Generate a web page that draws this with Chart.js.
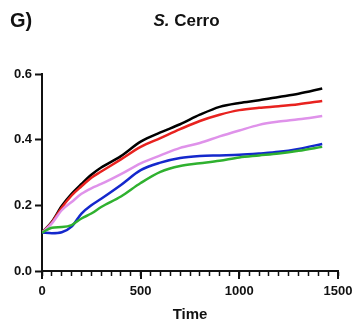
<!DOCTYPE html>
<html>
<head>
<meta charset="utf-8">
<script src="https://cdn.jsdelivr.net/npm/chart.js@4"></script>
<style>
  html, body { margin: 0; padding: 0; background: #fff; }
  #wrap { position: relative; width: 353px; height: 325px; font-family: "Liberation Sans", Arial, sans-serif; font-weight: bold; color: #111; }
  #panel { position: absolute; left: 10px; top: 9px; font-size: 20px; }
  #title { position: absolute; left: 0; width: 373px; top: 11px; text-align: center; font-size: 17px; }
  canvas { position: absolute; left: 0; top: 0; }
</style>
</head>
<body>
<div id="wrap">
  <canvas id="c" width="353" height="325"></canvas>
  <div id="panel">G)</div>
  <div id="title"><i>S.</i> Cerro</div>
</div>
<script>
// sampled time points (shared by all series)
const times = [0, 50, 100, 150, 200, 250, 300, 400, 500, 600, 700, 800, 900, 1000, 1100, 1200, 1300, 1420];

const blackVals  = [0.117, 0.150, 0.198, 0.235, 0.265, 0.293, 0.315, 0.350, 0.394, 0.422, 0.447, 0.476, 0.500, 0.512, 0.520, 0.530, 0.540, 0.556];
const redVals    = [0.117, 0.148, 0.193, 0.230, 0.258, 0.284, 0.303, 0.340, 0.378, 0.405, 0.432, 0.457, 0.476, 0.490, 0.497, 0.502, 0.508, 0.518];
const violetVals = [0.117, 0.145, 0.185, 0.210, 0.235, 0.252, 0.265, 0.295, 0.328, 0.352, 0.375, 0.390, 0.410, 0.428, 0.445, 0.455, 0.462, 0.472];
const blueVals   = [0.117, 0.115, 0.118, 0.135, 0.175, 0.200, 0.220, 0.262, 0.307, 0.330, 0.344, 0.350, 0.352, 0.354, 0.358, 0.363, 0.372, 0.387];
const greenVals  = [0.117, 0.132, 0.134, 0.140, 0.160, 0.175, 0.195, 0.227, 0.268, 0.302, 0.320, 0.328, 0.336, 0.346, 0.352, 0.358, 0.366, 0.378];

const xMajorTicks = [0, 500, 1000, 1500];

function series(vals, color) {
  return {
    data: vals.map((v, i) => ({ x: times[i], y: v })),
    borderColor: color,
    borderWidth: 2.5,
    pointRadius: 0,
    cubicInterpolationMode: 'monotone',
    fill: false,
  };
}

const FONT = { family: 'Liberation Sans', size: 13, weight: 'bold' };

// longer ticks at the labelled x values
const majorTicks = {
  id: 'majorTicks',
  afterDraw(chart) {
    const ctx = chart.ctx, xs = chart.scales.x, y0 = chart.chartArea.bottom;
    ctx.save();
    ctx.strokeStyle = '#111';
    ctx.lineWidth = 2;
    xMajorTicks.forEach((v) => {
      const px = Math.round(xs.getPixelForValue(v));
      ctx.beginPath();
      ctx.moveTo(px, y0);
      ctx.lineTo(px, y0 + 8);
      ctx.stroke();
    });
    ctx.restore();
  },
};

new Chart(document.getElementById('c'), {
  type: 'line',
  data: {
    datasets: [
      series(greenVals, '#2fb12f'),
      series(blueVals, '#1428cc'),
      series(violetVals, '#df92ea'),
      series(redVals, '#e8221f'),
      series(blackVals, '#000000'),
    ],
  },
  options: {
    responsive: false,
    animation: false,
    layout: { padding: { top: 74, right: 15, left: 0, bottom: 0 } },
    plugins: { legend: { display: false }, tooltip: { enabled: false } },
    scales: {
      x: {
        type: 'linear',
        min: 0,
        max: 1500,
        afterFit: (s) => { s.height = 54; s.paddingLeft = 0; s.paddingRight = 0; },
        border: { color: '#111', width: 2 },
        grid: { drawOnChartArea: false, tickLength: 5, tickWidth: 1.5, tickColor: '#111' },
        ticks: {
          stepSize: 50,
          autoSkip: false,
          maxRotation: 0,
          padding: 8,
          color: '#111',
          font: FONT,
          callback: (v) => (xMajorTicks.includes(v) ? String(v) : ''),
        },
        title: { display: true, text: 'Time', color: '#111', font: { family: 'Liberation Sans', size: 15, weight: 'bold' }, padding: { top: 2, bottom: 1 } },
      },
      y: {
        min: 0,
        max: 0.6,
        afterFit: (s) => { s.width = 42; },
        border: { color: '#111', width: 2 },
        grid: { drawOnChartArea: false, tickLength: 7, tickWidth: 2, tickColor: '#111' },
        ticks: { stepSize: 0.2, padding: 3, color: '#111', font: FONT, callback: (v) => v.toFixed(1) },
      },
    },
  },
  plugins: [majorTicks],
});
</script>
</body>
</html>
